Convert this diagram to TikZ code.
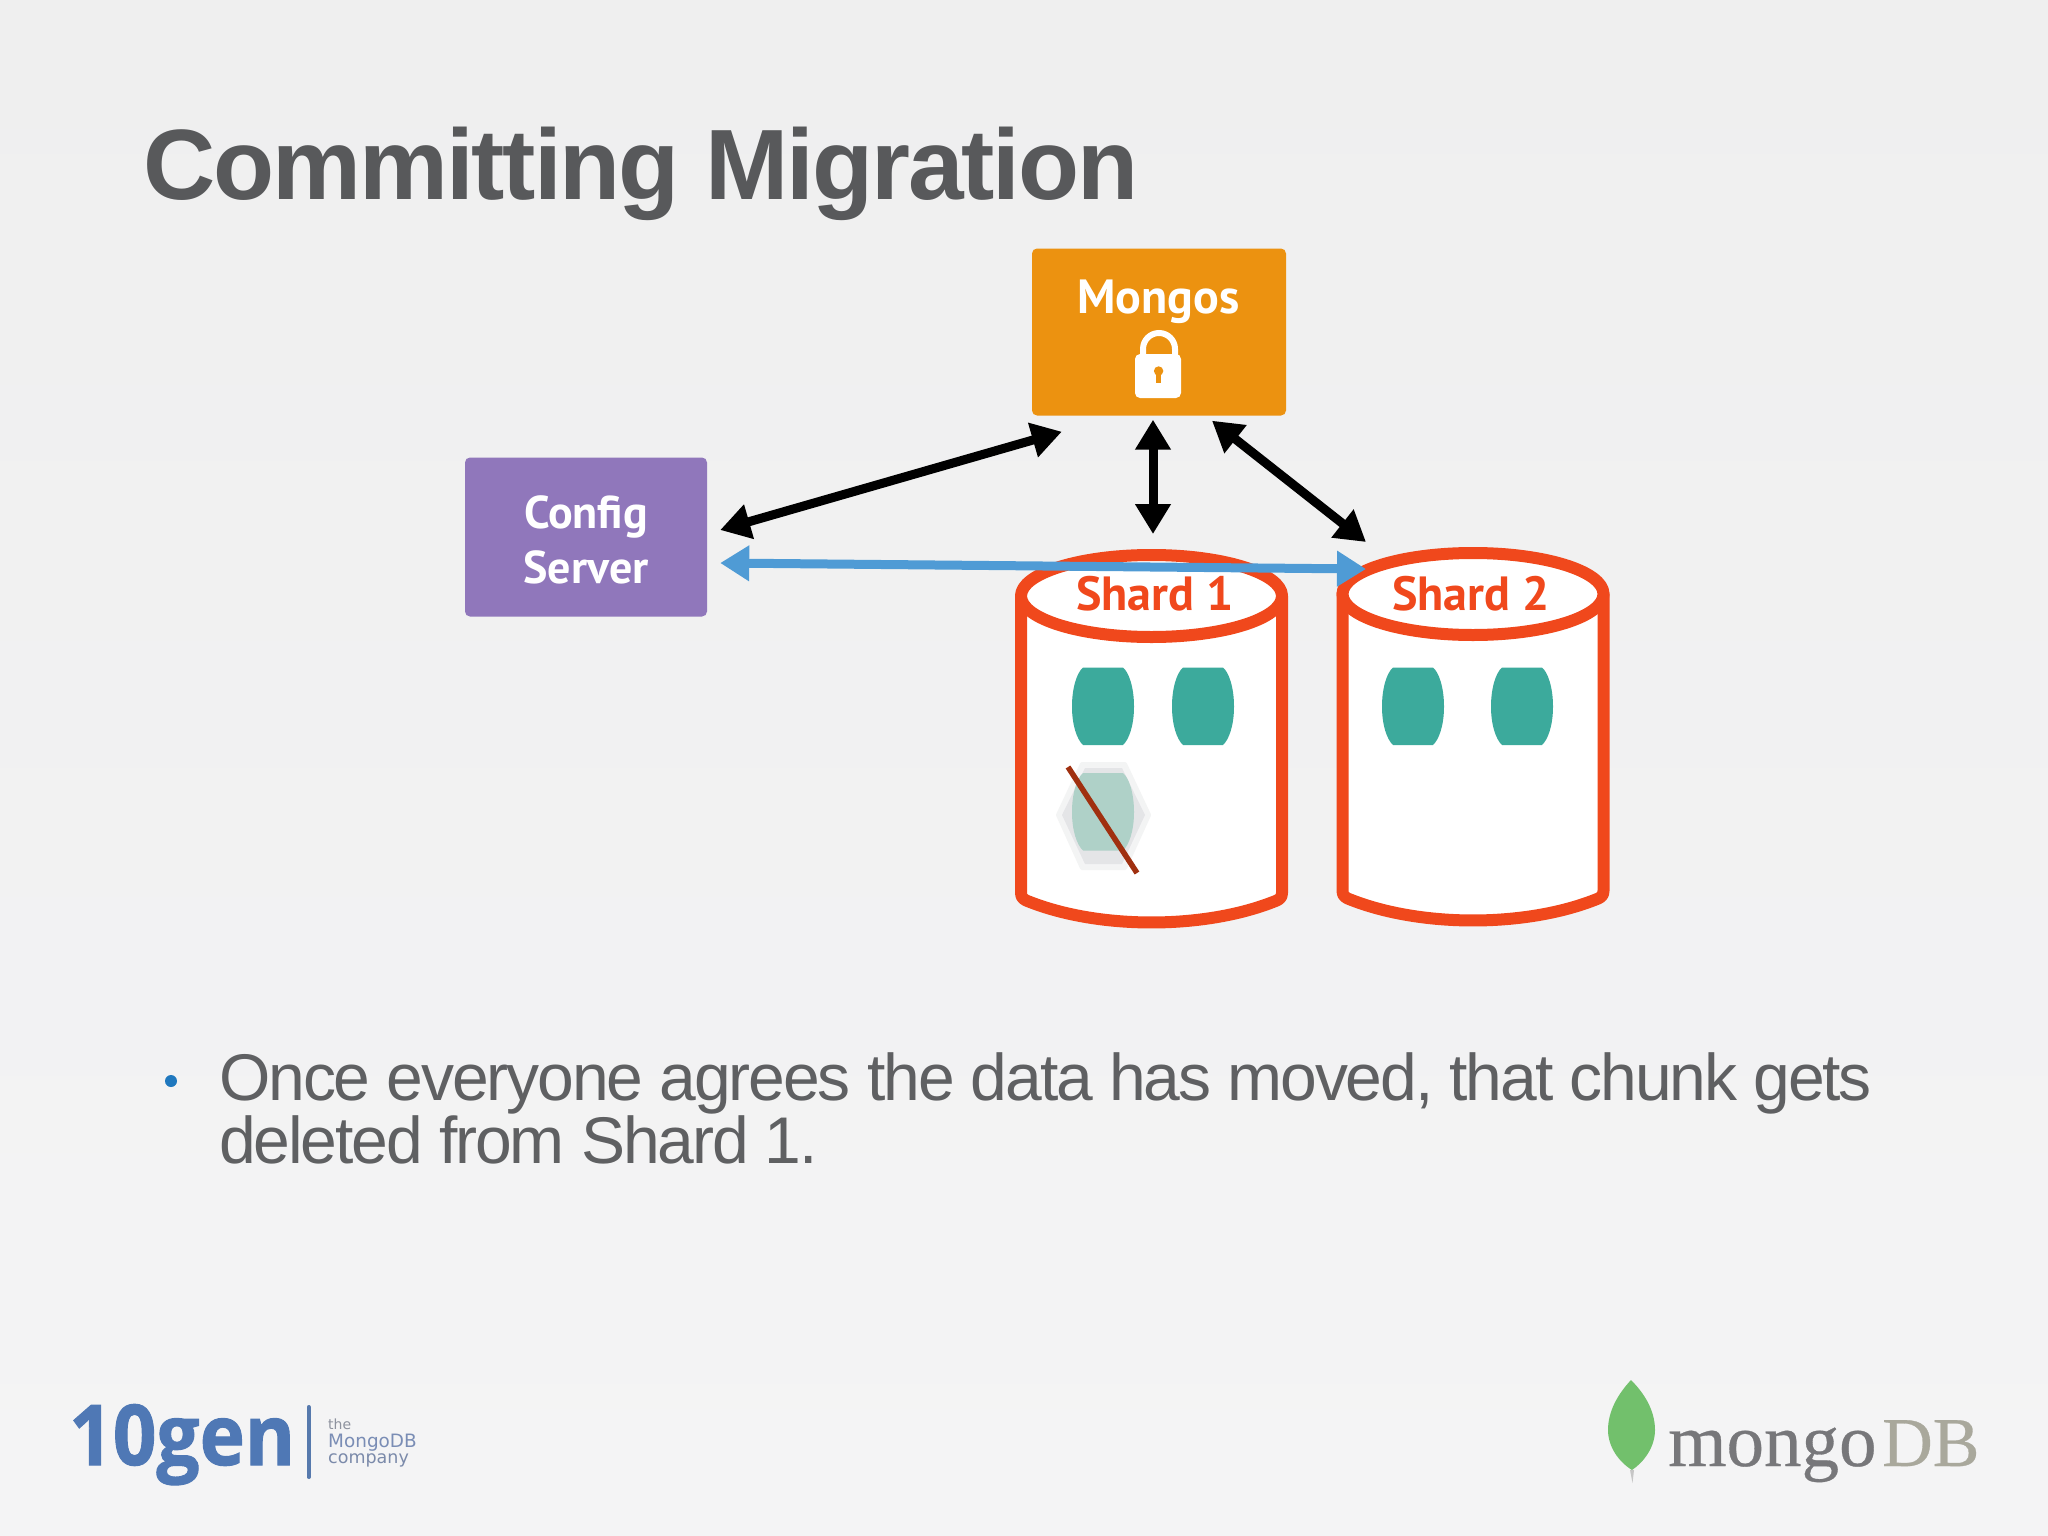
\documentclass[tikz,border=0pt]{standalone}
\usepackage{fontspec}
\setmainfont{Liberation Sans}
\newfontfamily\ptb{PT Sans Bold}
\newfontfamily\osb{Open Sans Bold}[FakeBold=1.2]
\newfontfamily\libs{Liberation Serif}[FakeBold=0.4]
\newfontfamily\djv{DejaVu Sans}
\newfontfamily\tightf{Liberation Sans}[LetterSpace=-3.2]
\newfontfamily\titlef{Liberation Sans Bold}[LetterSpace=-2.1]
\usetikzlibrary{arrows.meta}
\definecolor{bgtop}{HTML}{EFEFEF}
\definecolor{bgbot}{HTML}{F4F4F5}
\definecolor{titlegrey}{HTML}{58595B}
\definecolor{bodygrey}{HTML}{5F6062}
\definecolor{mongosc}{HTML}{EC9210}
\definecolor{configc}{HTML}{9077BB}
\definecolor{shardc}{HTML}{F0481C}
\definecolor{chunkc}{HTML}{3CAA9C}
\definecolor{fadedc}{HTML}{AFD1C8}
\definecolor{hexc}{HTML}{DEDFE1}
\definecolor{strikec}{HTML}{A03010}
\definecolor{bluec}{HTML}{4F9BD5}
\definecolor{bulletc}{HTML}{1F78BE}
\definecolor{tengen}{HTML}{4F78B5}
\definecolor{tagc}{HTML}{7A8DB5}
\definecolor{thec}{HTML}{8D929E}
\definecolor{mongotxt}{HTML}{77777A}
\definecolor{dbtxt}{HTML}{A9A89C}
\definecolor{leafc}{HTML}{72C06C}
\tikzset{
  boxnode/.style={rounded corners=5pt,inner sep=0pt,text=white,align=center},
  boxtext/.style={font=\ptb\fontsize{48}{55}\selectfont},
  conftext/.style={font=\ptb\fontsize{46}{55}\selectfont},
  shardline/.style={draw=shardc,line width=12pt,fill=white,line join=round},
  shardtext/.style={font=\ptb\fontsize{48}{55}\selectfont,text=shardc,anchor=base,inner sep=0pt},
  blackarrow/.style={line width=9pt,draw=black,{Triangle[length=30pt,width=34pt]}-{Triangle[length=30pt,width=34pt]}},
  bluearrow/.style={line width=9pt,draw=bluec,{Triangle[length=29pt,width=34pt]}-{Triangle[length=29pt,width=34pt]}},
  txt/.style={anchor=base west,inner sep=0pt},
}
\newcommand{\cyl}[2]{%
  \begin{scope}[shift={(#1,#2)}]
    \path[shardline] (0,0) -- (0,297) .. controls (0,302) and (3,304) .. (9,306)
      .. controls (79,333.3) and (182,333.3) .. (252,306)
      .. controls (258,304) and (261,302) .. (261,297) -- (261,0) -- cycle;
    \path[shardline] (130.5,0) ellipse [x radius=130.5,y radius=41];
  \end{scope}}
\newcommand{\chunk}[3]{%
  \fill[#3,shift={(#1,#2)}] (11,0) -- (51,0) .. controls (57,5) and (62,20) .. (62,39)
    .. controls (62,58) and (57,72) .. (51,77.5) -- (11,77.5)
    .. controls (5,72) and (0,58) .. (0,39) .. controls (0,20) and (5,5) .. (11,0) -- cycle;}
\begin{document}
\begin{tikzpicture}[x=1pt,y=-1pt]
\useasboundingbox (0,0) rectangle (2048,1536);
\shade[top color=bgtop,bottom color=bgbot] (0,0) rectangle (2048,1536);

\node[txt,font=\titlef\fontsize{100}{110}\selectfont,text=titlegrey] (title) at (143,199) {Committing Migration};

\node[boxnode,fill=mongosc,minimum width=254pt,minimum height=167pt] (mongos) at (1159,332) {};
\node[boxtext,text=white,anchor=base,inner sep=0pt] (mongoslabel) at (1158.6,313) {Mongos};
\node[boxnode,conftext,fill=configc,minimum width=242pt,minimum height=159pt] (config) at (586,537) {\rule{0pt}{38pt}Config\\Server};

% lock
\draw[white,line width=6pt] (1143,358) -- (1143,349) arc[start angle=180,end angle=360,radius=16] -- (1175,358);
\fill[white,rounded corners=5pt] (1135,354) rectangle (1181,398);
\fill[mongosc] (1158.6,371) circle (4.7);
\fill[mongosc] (1156.4,372) rectangle (1160.8,383);

\cyl{1021}{596}
\cyl{1342.5}{594}
\coordinate (s1top) at (1151.5,555);
\coordinate (s2top) at (1473,553);

\node[shardtext] (shard1) at (1155,610) {Shard 1};
\node[shardtext] (shard2) at (1471,610) {Shard 2};

\chunk{1072}{667.5}{chunkc}
\chunk{1172}{667.5}{chunkc}
\chunk{1382}{667.5}{chunkc}
\chunk{1491}{667.5}{chunkc}

% deleted chunk
\fill[hexc!35!white,draw=hexc!35!white,line width=4pt,line join=round] (1058,815) -- (1082,764) -- (1125,764) -- (1149,815) -- (1125,868) -- (1082,868) -- cycle;
\fill[hexc!80!white] (1062,815) -- (1085,768) -- (1122,768) -- (1145,815) -- (1122,864) -- (1085,864) -- cycle;
\chunk{1072}{773}{fadedc}
\draw[strikec,line width=5.5pt] (1068,767) -- (1137,873);

\draw[blackarrow] ([shift={(13,-7)}]config.east) -- ([shift={(30,16)}]mongos.south west);
\draw[blackarrow] ([shift={(-6,4)}]mongos.south) -- ([shift={(1.5,-21)}]s1top);
\draw[blackarrow] ([shift={(53,5)}]mongos.south) -- ([shift={(-107,-11)}]s2top);
\draw[bluearrow] ([shift={(13,26)}]config.east) -- ([shift={(-107,16)}]s2top);

% bullet
\node[circle,fill=bulletc,minimum size=12pt,inner sep=0pt] (bullet) at (171,1081) {};
\node[txt,font=\tightf\fontsize{66}{70}\selectfont,text=bodygrey] (line1) at (219,1100.5) {Once everyone agrees the data has moved, that chunk gets};
\node[txt,font=\tightf\fontsize{66}{70}\selectfont,text=bodygrey] (line2) at (219,1163.5) {deleted from Shard 1.};

% 10gen logo
\node[txt,font=\osb\fontsize{84}{90}\selectfont,text=tengen,xscale=.91,transform shape] (tengenlogo) at (69,1465) {10gen};
\draw[tengen!85!gray,line width=4pt,line cap=round] (308.7,1407) -- (308.7,1477);
\node[txt,font=\djv\fontsize{14}{18}\selectfont,text=thec] (the) at (328,1429) {the};
\node[txt,font=\djv\fontsize{18.4}{24}\selectfont,text=tagc] (mdb) at (328,1447) {MongoDB};
\node[txt,font=\djv\fontsize{17.5}{24}\selectfont,text=tagc!80!gray] (company) at (328,1463) {company};

% mongoDB logo
\fill[leafc] (1631,1380) .. controls (1646,1395) and (1655,1412) .. (1655,1430)
  .. controls (1655,1447) and (1644,1462) .. (1632,1470)
  .. controls (1619,1462) and (1608,1447) .. (1608,1430)
  .. controls (1608,1412) and (1617,1395) .. (1631,1380) -- cycle;
\fill[gray!45!white] (1630,1470) -- (1634,1470) -- (1632.5,1483) -- cycle;
\node[txt,font=\libs\fontsize{75}{80}\selectfont,text=mongotxt] (mongo) at (1668,1466) {mongo};
\node[txt,font=\libs\fontsize{70}{80}\selectfont,text=dbtxt] (db) at (1882,1466) {DB};
\end{tikzpicture}
\end{document}
